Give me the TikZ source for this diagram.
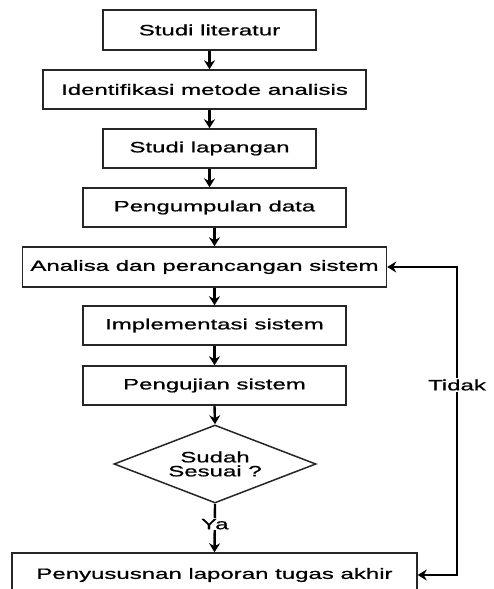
\documentclass[tikz,border=0pt]{standalone}
\usepackage{fontspec}
\setmainfont{Liberation Sans}[FakeStretch=1.6,FakeBold=0.8]
\usetikzlibrary{arrows.meta,shapes.geometric,calc}
\begin{document}
\begin{tikzpicture}[x=1pt,y=-1pt,
  procbox/.style={draw=black!85,line width=1.5pt,rectangle,inner sep=0pt,font=\fontsize{15}{16}\selectfont},
  decbox/.style={draw=black!85,line width=1.5pt,diamond,aspect=2.59,inner sep=0pt,align=center,font=\fontsize{15}{16}\selectfont},
  tip/.tip={Stealth[length=9pt,width=11pt,inset=3pt]},
  arr/.style={line width=2.4pt,-tip},
  lbl/.style={fill=white,inner sep=1pt,font=\fontsize{15}{16}\selectfont}]
\clip (0,0) rectangle (493,589);
\fill[white] (0,0) rectangle (493,589);
\node[procbox,minimum width=213pt,minimum height=40pt] (b1) at (209.5,30) {Studi literatur};
\node[procbox,minimum width=323pt,minimum height=39pt] (b2) at (204.5,89.5) {Identifikasi metode analisis};
\node[procbox,minimum width=213pt,minimum height=39pt] (b3) at (209.5,148.5) {Studi lapangan};
\node[procbox,minimum width=263pt,minimum height=39pt] (b4) at (214.5,207.5) {Pengumpulan data};
\node[procbox,minimum width=364pt,minimum height=40pt] (b5) at (204.5,267) {Analisa dan perancangan sistem};
\node[procbox,minimum width=263pt,minimum height=39pt] (b6) at (214.5,325.5) {Implementasi sistem};
\node[procbox,minimum width=263pt,minimum height=39pt] (b7) at (214.5,385.5) {Pengujian sistem};
\node[decbox,minimum width=202pt,minimum height=78pt] (d) at (215,464) {Sudah\\[-2pt]Sesuai ?};
\node[procbox,minimum width=405pt,minimum height=44pt] (b8) at (214.5,575) {Penyususnan laporan tugas akhir};
\draw[arr] (b1.south) -- (b1.south |- b2.north);
\draw[arr] (b2.south -| b1.south) -- (b1.south |- b3.north);
\draw[arr] (b3.south) -- (b3.south |- b4.north);
\draw[arr] (b4.south) -- (b4.south |- b5.north);
\draw[arr] (b6.north |- b5.south) -- (b6.north);
\draw[arr] (b6.south) -- (b7.north);
\draw[arr] (b7.south) -- (d.north);
\draw[arr] (d.south) -- node[lbl,pos=0.42] (ya) {Ya} (b8.north);
\coordinate (lc) at (457,575);
\draw[line width=2.4pt,tip-tip] (b8.east) -- (lc) -- (lc |- b5.east) -- (b5.east);
\node[lbl] (tidak) at (457,385) {Tidak};
\end{tikzpicture}
\end{document}
